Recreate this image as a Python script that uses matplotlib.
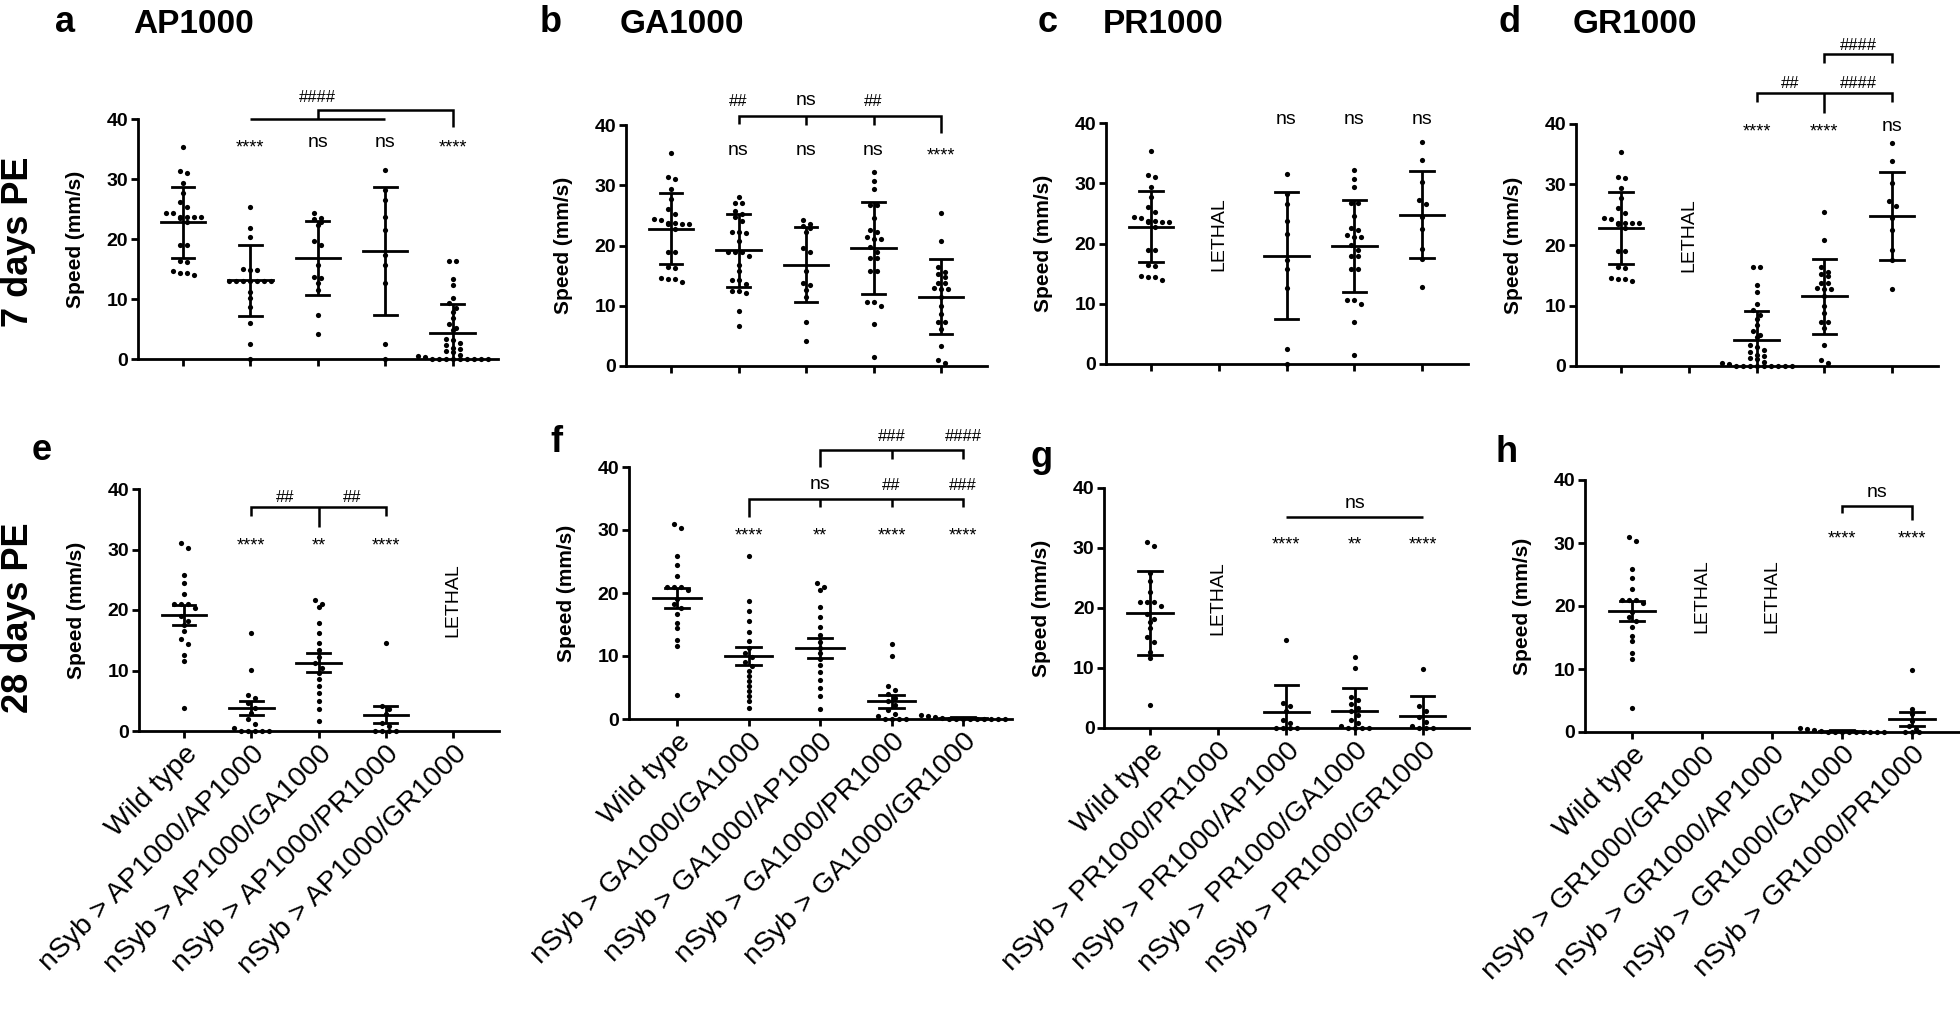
import numpy as np
import matplotlib
matplotlib.use("Agg")
import matplotlib.pyplot as plt
from matplotlib import transforms

plt.rcParams['font.family'] = ['Liberation Sans', 'DejaVu Sans']

# ----------------------------- data ---------------------------------
# individual fly speeds (mm/s), 7 days post-eclosion
wt_7d    = [35.4, 31.3, 31.0, 29.4, 27.7, 26.1, 25.3, 24.4, 24.3, 23.7, 23.6, 23.6,
            23.5, 23.7, 22.8, 19.0, 19.0, 16.4, 16.2, 14.0, 14.6, 14.4, 14.4]
ap_ap_7d = [25.4, 21.8, 20.3, 15.0, 14.9, 14.8, 13.0, 13.0, 13.0, 13.0, 13.0, 13.0,
            13.0, 11.2, 10.2, 8.6, 6.0, 2.5, 0.0]
ap_ga_7d = [24.3, 23.5, 23.3, 22.9, 22.3, 19.6, 19.0, 15.7, 13.7, 13.5, 12.6, 11.5,
            7.3, 4.2]
ap_pr_7d = [31.5, 28.2, 26.5, 23.7, 21.5, 17.3, 15.7, 12.6, 2.5, 0.0]
ap_gr_7d = [16.4, 16.3, 13.4, 12.3, 10.2, 9.3, 8.5, 7.8, 6.8, 5.8, 5.2, 4.8, 3.4,
            3.2, 2.6, 2.3, 1.9, 1.6, 1.4, 1.2, 0.6, 0.5, 0.3, 0.0, 0.0, 0.0, 0.0,
            0.0, 0.0, 0.0, 0.0, 0.0]
ga_ga_7d = [28.1, 27.0, 27.0, 25.7, 24.8, 25.2, 24.0, 22.3, 22.3, 22.0, 20.8, 18.9,
            18.9, 18.9, 18.2, 16.8, 15.7, 14.2, 14.2, 13.6, 12.5, 12.5, 12.1, 9.2, 6.7]
ga_pr_7d = [32.2, 30.7, 29.3, 26.8, 26.8, 24.6, 22.6, 22.2, 21.4, 21.0, 21.0, 19.7,
            18.9, 17.9, 17.9, 15.8, 15.7, 10.6, 10.6, 10.0, 7.0, 1.5]
ga_gr_7d = [25.4, 20.8, 16.4, 15.6, 15.2, 14.8, 13.8, 13.7, 12.9, 12.8, 12.8, 11.5,
            10.0, 8.7, 7.3, 7.3, 6.2, 3.4, 1.0, 0.5]
pr_gr_7d = [36.9, 33.9, 30.2, 27.2, 26.5, 24.4, 22.4, 19.1, 17.5, 12.8]

# individual fly speeds (mm/s), 28 days post-eclosion
wt_28d    = [31.0, 30.3, 25.8, 24.5, 22.7, 21.0, 21.0, 21.0, 20.4, 19.0, 18.2, 17.6,
             16.6, 15.2, 14.4, 12.6, 11.6, 3.8]
ap_ap_28d = [16.2, 10.1, 6.0, 5.5, 4.6, 3.8, 2.9, 2.0, 1.2, 0.5, 0.0, 0.0, 0.0, 0.0, 0.0]
ap_ga_28d = [21.6, 21.0, 20.5, 17.8, 16.2, 14.6, 13.4, 12.2, 11.2, 10.4, 9.6, 8.6,
             7.4, 6.2, 5.0, 3.6, 1.6]
ap_pr_28d = [14.6, 4.2, 3.6, 2.8, 1.4, 0.8, 0.0, 0.0, 0.0, 0.0]
ga_ga_28d = [25.9, 18.8, 17.2, 15.6, 13.8, 12.4, 11.2, 10.4, 9.8, 9.0, 8.4, 7.6,
             6.8, 6.0, 5.2, 4.4, 3.6, 2.8, 1.8]
ga_pr_28d = [11.9, 10.0, 5.2, 4.6, 4.0, 3.4, 2.8, 2.2, 1.4, 0.8, 0.4, 0.0, 0.0, 0.0, 0.0]
ga_gr_28d = [0.6, 0.4, 0.3, 0.2, 0.0, 0.0, 0.0, 0.0, 0.0, 0.0, 0.0, 0.0, 0.0]
pr_gr_28d = [9.8, 3.6, 2.8, 1.8, 1.0, 0.4, 0.0, 0.0, 0.0]

# summary statistics drawn as error bars
keys_7d  = ['WT', 'AP/AP', 'AP/GA', 'AP/PR', 'AP/GR', 'GA/GA', 'GA/PR', 'GA/GR', 'PR/GR']
mean_7d  = [22.8, 13.1, 16.8, 18.0, 4.3, 19.2, 19.6, 11.5, 24.8]
sd_7d    = [5.95, 5.95, 6.2, 10.6, 4.8, 6.1, 7.6, 6.2, 7.2]

keys_28d = ['WT', 'AP/AP', 'AP/GA', 'AP/PR', 'GA/GA', 'GA/PR', 'GA/GR', 'PR/GR']
mean_28d = [19.2, 3.8, 11.3, 2.7, 10.0, 2.8, 0.2, 2.0]
sd_28d   = [6.95, 4.6, 6.6, 4.4, 6.4, 3.8, 0.2, 3.4]
sem_28d  = [1.6, 1.2, 1.6, 1.4, 1.5, 1.0, 0.1, 1.1]

# category labels
cats_a = ["Wild type", "nSyb > AP1000/AP1000", "nSyb > AP1000/GA1000",
          "nSyb > AP1000/PR1000", "nSyb > AP1000/GR1000"]
cats_b = ["Wild type", "nSyb > GA1000/GA1000", "nSyb > GA1000/AP1000",
          "nSyb > GA1000/PR1000", "nSyb > GA1000/GR1000"]
cats_c = ["Wild type", "nSyb > PR1000/PR1000", "nSyb > PR1000/AP1000",
          "nSyb > PR1000/GA1000", "nSyb > PR1000/GR1000"]
cats_d = ["Wild type", "nSyb > GR1000/GR1000", "nSyb > GR1000/AP1000",
          "nSyb > GR1000/GA1000", "nSyb > GR1000/PR1000"]
y_ticks = [0, 10, 20, 30, 40]

# ----------------------------- tables -------------------------------
pts_7d = {'WT': wt_7d, 'AP/AP': ap_ap_7d, 'AP/GA': ap_ga_7d, 'AP/PR': ap_pr_7d,
          'AP/GR': ap_gr_7d, 'GA/GA': ga_ga_7d, 'GA/PR': ga_pr_7d,
          'GA/GR': ga_gr_7d, 'PR/GR': pr_gr_7d}
pts_28d = {'WT': wt_28d, 'AP/AP': ap_ap_28d, 'AP/GA': ap_ga_28d, 'AP/PR': ap_pr_28d,
           'GA/GA': ga_ga_28d, 'GA/PR': ga_pr_28d, 'GA/GR': ga_gr_28d,
           'PR/GR': pr_gr_28d}
stats_7d = {k: (m, s, s) for k, m, s in zip(keys_7d, mean_7d, sd_7d)}
stats_28d = {k: (m, s, e) for k, m, s, e in zip(keys_28d, mean_28d, sd_28d, sem_28d)}

W, H = 1960, 1010
fig = plt.figure(figsize=(W / 100, H / 100), dpi=100)

LW = 2.0


def add_axes_px(c1, s, top, bot):
    left = c1 - 0.67 * s
    right = c1 + 4.68 * s
    ax = fig.add_axes([left / W, 1 - bot / H, (right - left) / W, (bot - top) / H])
    ax.set_xlim(-0.67, 4.68)
    ax.set_ylim(0, 40)
    return ax, right - left, bot - top


def swarm(vals, ppx, ppy, dx=7.0, dy=5.0):
    vals = np.asarray(vals, float)
    order = np.argsort(-vals)
    offs = np.zeros(len(vals))
    rows = []
    for i in order:
        if rows and abs(vals[rows[-1][0]] - vals[i]) * ppy < dy:
            rows[-1].append(i)
        else:
            rows.append([i])
    for r in rows:
        n = len(r)
        for j, i in enumerate(r):
            offs[i] = (j - (n - 1) / 2) * dx / ppx
    return offs


def seg(ax, xs, ys):
    ax.plot(xs, ys, color='k', lw=1.8, clip_on=False, solid_capstyle='butt',
            solid_joinstyle='miter')


def ann(ax, x, yc, s):
    if '*' in s:
        size, frac = 13, 0.58
    elif '#' in s:
        size, frac = 12, 0.36
    else:
        size, frac = 14, 0.26
    tr = transforms.offset_copy(ax.transData, fig=fig, x=0, y=-frac * size,
                                units='points')
    ax.text(x, yc, s, transform=tr, ha='center', va='baseline', fontsize=size,
            clip_on=False)


def lethal(ax, x):
    ax.text(x, 21.6, 'LETHAL', rotation=90, ha='center', va='center', fontsize=14)


def panel(geom, keys, pts, stats, err_idx, cats, show_labels):
    ax, wpx, hpx = add_axes_px(*geom)
    ppx = wpx / (4.68 + 0.67)
    ppy = hpx / 40.0
    for i, k in enumerate(keys):
        if k is None:
            lethal(ax, i)
            continue
        v = pts[k]
        off = swarm(v, ppx, ppy)
        ax.scatter(i + off, v, s=14, color='k', linewidths=0, zorder=3, clip_on=False)
        m = stats[k][0]
        e = stats[k][err_idx]
        ax.plot([i, i], [m - e, m + e], color='k', lw=LW, solid_capstyle='butt', zorder=4)
        ax.plot([i - 0.17, i + 0.17], [m + e, m + e], color='k', lw=LW, zorder=4)
        ax.plot([i - 0.17, i + 0.17], [m - e, m - e], color='k', lw=LW, zorder=4)
        ax.plot([i - 0.33, i + 0.33], [m, m], color='k', lw=LW, zorder=4)
    for sp in ('top', 'right'):
        ax.spines[sp].set_visible(False)
    for sp in ('left', 'bottom'):
        ax.spines[sp].set_linewidth(LW)
    ax.spines['left'].set_bounds(0, 40)
    ax.set_yticks(y_ticks)
    ax.set_yticklabels([str(t) for t in y_ticks], fontsize=14, fontweight='bold')
    ax.set_xticks(range(5))
    if show_labels:
        ax.set_xticklabels(cats, rotation=45, ha='right', rotation_mode='anchor',
                           fontsize=20.5)
    else:
        ax.set_xticklabels([])
    ax.tick_params(axis='both', direction='out', length=5, width=LW, pad=2)
    ax.set_ylabel('Speed (mm/s)', fontsize=15, fontweight='bold')
    ax.yaxis.set_label_coords(-53 / wpx, 0.5)
    return ax


# ----------------------------- top row (7 days, mean +/- SD) ---------
ax_a = panel((183, 67.4, 119, 359), ['WT', 'AP/AP', 'AP/GA', 'AP/PR', 'AP/GR'],
             pts_7d, stats_7d, 1, cats_a, False)
ax_b = panel((671, 67.5, 125, 366), ['WT', 'GA/GA', 'AP/GA', 'GA/PR', 'GA/GR'],
             pts_7d, stats_7d, 1, cats_b, False)
ax_c = panel((1151, 67.75, 123, 364), ['WT', None, 'AP/PR', 'GA/PR', 'PR/GR'],
             pts_7d, stats_7d, 1, cats_c, False)
ax_d = panel((1621, 67.75, 124, 366), ['WT', None, 'AP/GR', 'GA/GR', 'PR/GR'],
             pts_7d, stats_7d, 1, cats_d, False)

# ----------------------------- bottom row (28 days) -------------------
ax_e = panel((184, 67.3, 489, 731), ['WT', 'AP/AP', 'AP/GA', 'AP/PR', None],
             pts_28d, stats_28d, 2, cats_a, True)
ax_f = panel((677, 71.5, 467, 719), ['WT', 'GA/GA', 'AP/GA', 'GA/PR', 'GA/GR'],
             pts_28d, stats_28d, 2, cats_b, True)
ax_g = panel((1150, 68.2, 488, 728), ['WT', None, 'AP/PR', 'GA/PR', 'PR/GR'],
             pts_28d, stats_28d, 1, cats_c, True)
ax_h = panel((1632, 70.0, 480, 732), ['WT', None, None, 'GA/GR', 'PR/GR'],
             pts_28d, stats_28d, 2, cats_d, True)

# ----------------------------- significance marks ---------------------
# a
for x, s in [(1, '****'), (2, 'ns'), (3, 'ns'), (4, '****')]:
    ann(ax_a, x, 36.1, s)
seg(ax_a, [1, 3], [40, 40])
seg(ax_a, [2, 2, 4, 4], [40, 41.5, 41.5, 38.7])
ann(ax_a, 2, 43.8, '####')
# b
for x, s in [(1, 'ns'), (2, 'ns'), (3, 'ns'), (4, '****')]:
    ann(ax_b, x, 35.9, s)
seg(ax_b, [1, 1, 4, 4], [40.2, 41.5, 41.5, 38.7])
seg(ax_b, [2, 2], [41.5, 40.0])
seg(ax_b, [3, 3], [41.5, 40.0])
for x, s in [(1, '##'), (2, 'ns'), (3, '##')]:
    ann(ax_b, x, 44.1, s)
# c
for x in (2, 3, 4):
    ann(ax_c, x, 40.6, 'ns')
# d
for x, s in [(2, '****'), (3, '****'), (4, 'ns')]:
    ann(ax_d, x, 39.7, s)
seg(ax_d, [2, 2, 4, 4], [43.7, 45.1, 45.1, 43.7])
seg(ax_d, [3, 3], [45.1, 41.8])
ann(ax_d, 2.5, 47.0, '##')
ann(ax_d, 3.5, 47.0, '####')
seg(ax_d, [3, 3, 4, 4], [50.0, 51.5, 51.5, 50.0])
ann(ax_d, 3.5, 53.3, '####')
# e
for x, s in [(1, '****'), (2, '**'), (3, '****')]:
    ann(ax_e, x, 31.5, s)
seg(ax_e, [1, 1, 3, 3], [35.6, 37.1, 37.1, 35.6])
seg(ax_e, [2, 2], [37.1, 33.8])
ann(ax_e, 1.5, 38.85, '##')
ann(ax_e, 2.5, 38.85, '##')
# f
for x, s in [(1, '****'), (2, '**'), (3, '****'), (4, '****')]:
    ann(ax_f, x, 30.0, s)
seg(ax_f, [1, 1, 4, 4], [32.1, 35.0, 35.0, 33.6])
seg(ax_f, [2, 2], [35.0, 33.6])
seg(ax_f, [3, 3], [35.0, 33.6])
for x, s in [(2, 'ns'), (3, '##'), (4, '###')]:
    ann(ax_f, x, 37.3, s)
seg(ax_f, [2, 2, 4, 4], [40.0, 42.7, 42.7, 41.2])
seg(ax_f, [3, 3], [42.7, 41.2])
ann(ax_f, 3, 45.1, '###')
ann(ax_f, 4, 45.1, '####')
# g
for x, s in [(2, '****'), (3, '**'), (4, '****')]:
    ann(ax_g, x, 31.45, s)
seg(ax_g, [2, 4], [35.2, 35.2])
ann(ax_g, 3, 37.45, 'ns')
# h
for x in (3, 4):
    ann(ax_h, x, 31.55, '****')
seg(ax_h, [3, 3, 4, 4], [34.7, 35.9, 35.9, 33.65])
ann(ax_h, 3.5, 38.15, 'ns')

# ----------------------------- panel letters, titles, row labels -------
def ftext(xpx, ypx, s, size, **kw):
    fig.text(xpx / W, 1 - ypx / H, s, fontsize=size, fontweight='bold', **kw)

for lx, tx, letter, title in [(55, 133, 'a', 'AP1000'), (540, 620, 'b', 'GA1000'),
                              (1038, 1103, 'c', 'PR1000'), (1498, 1573, 'd', 'GR1000')]:
    ftext(lx, 32, letter, 26, va='baseline')
    ftext(tx, 33, title, 24, va='baseline')
for lx, by, letter in [(32, 460, 'e'), (550, 452, 'f'), (1030, 467, 'g'), (1495, 462, 'h')]:
    ftext(lx, by, letter, 26, va='baseline')

ftext(36, 242, '7 days PE', 26, rotation=90, ha='right', va='center')
ftext(36, 618, '28 days PE', 26, rotation=90, ha='right', va='center')

fig.savefig('out.png', dpi=100, facecolor='white')
